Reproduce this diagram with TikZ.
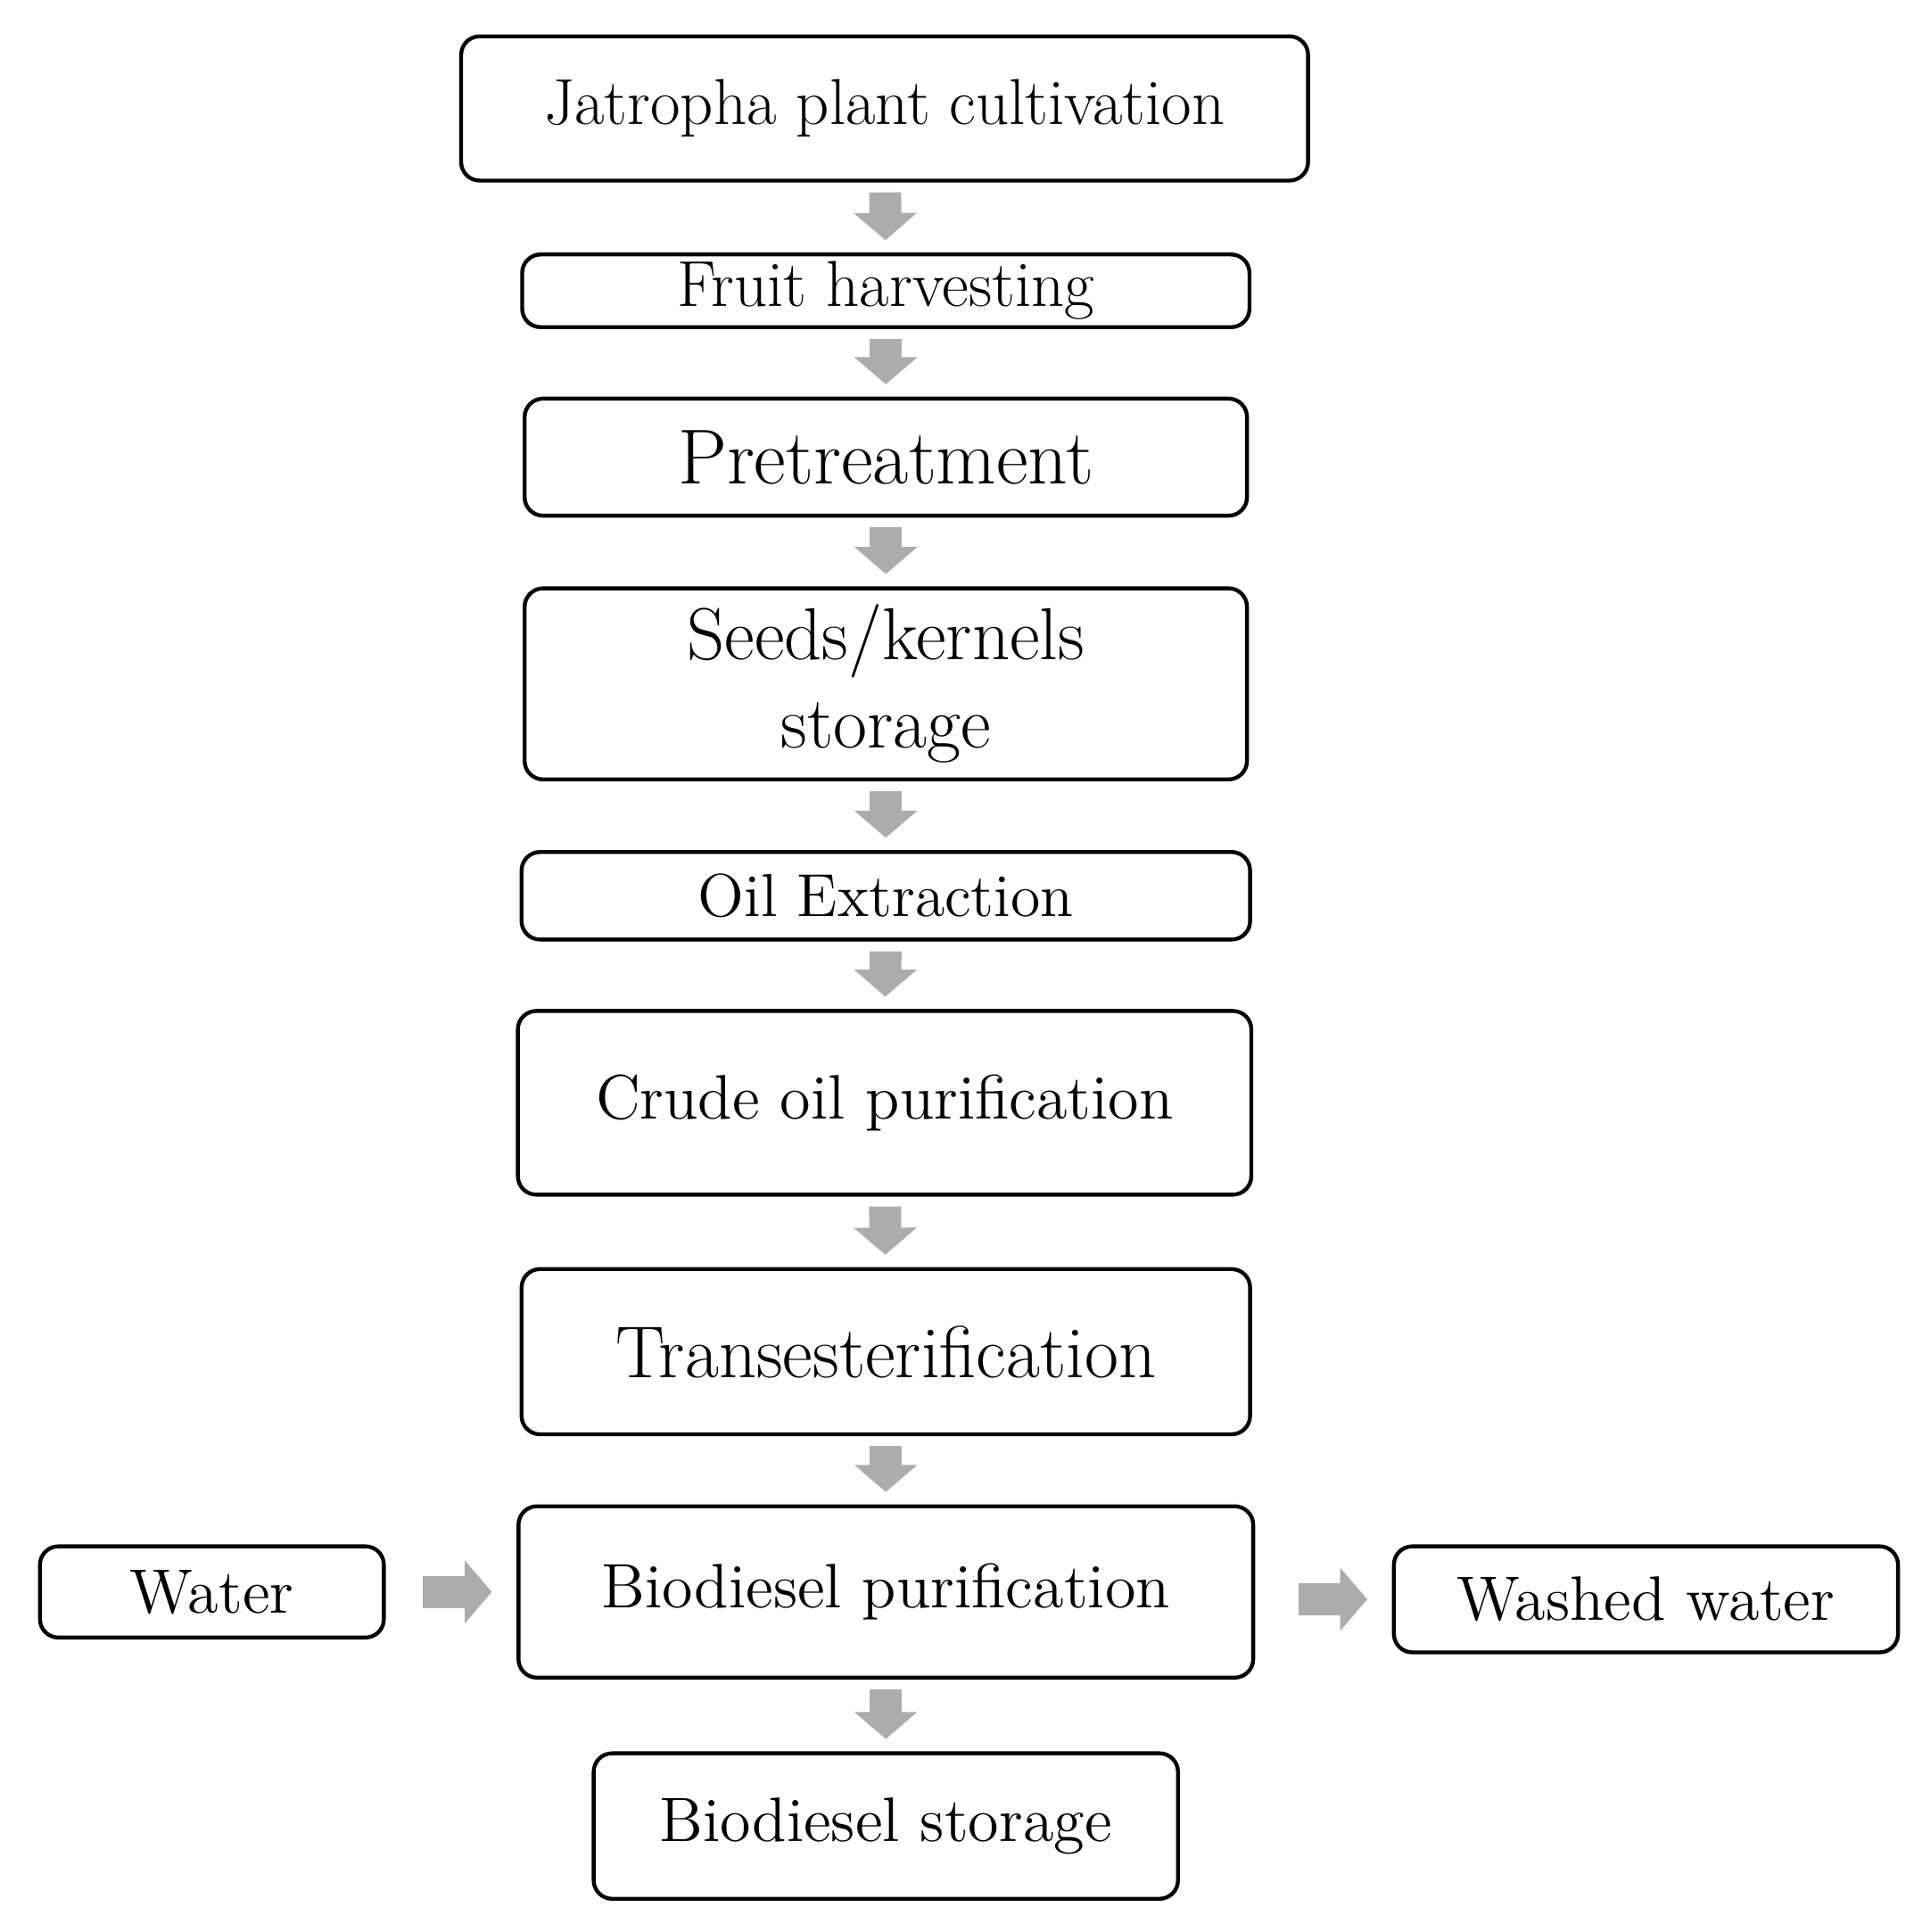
\documentclass[tikz,border=0pt]{standalone}
\usepackage{tikz}
\usetikzlibrary{arrows.meta}
\tikzset{
  stage/.style={draw, line width=0.9pt, rounded corners=0.15cm, align=center, inner sep=0pt},
  flow/.style={draw=gray!65, line width=0.26cm, -{Triangle[width=0.5cm,length=0.22cm]}, shorten <=0.08cm, shorten >=0.1cm},
}
\newcommand{\fs}[1]{\fontsize{#1}{#1}\selectfont\baselineskip=1.2\baselineskip}
\begin{document}
\begin{tikzpicture}[x=0.01cm,y=-0.01cm]
	\useasboundingbox (0,0) rectangle (1560,1568);
	\node[stage, minimum width=6.87cm, minimum height=1.17cm, font=\fs{15}] (cult) at (718,88) {Jatropha plant cultivation};
	\node[stage, minimum width=5.9cm, minimum height=0.59cm, font=\fs{15}] (harv) at (719,236) {Fruit harvesting};
	\node[stage, minimum width=5.86cm, minimum height=0.95cm, font=\fs{18}] (pre) at (719,371) {Pretreatment};
	\node[stage, minimum width=5.86cm, minimum height=1.55cm, font=\fs{17}] (seed) at (719,555) {Seeds/kernels\\storage};
	\node[stage, minimum width=5.91cm, minimum height=0.71cm, font=\fs{14}] (oil) at (719,727) {Oil Extraction};
	\node[stage, minimum width=5.95cm, minimum height=1.49cm, font=\fs{14.5}] (crude) at (718,895) {Crude oil purification};
	\node[stage, minimum width=5.91cm, minimum height=1.34cm, font=\fs{17}] (trans) at (719,1097) {Transesterification};
	\node[stage, minimum width=5.96cm, minimum height=1.39cm, font=\fs{14.5}] (bio) at (719,1292) {Biodiesel purification};
	\node[stage, minimum width=4.74cm, minimum height=1.18cm, font=\fs{14.5}] (store) at (719,1482) {Biodiesel storage};
	\node[stage, minimum width=2.79cm, minimum height=0.74cm, font=\fs{14.5}] (water) at (172,1292) {Water};
	\node[stage, minimum width=4.09cm, minimum height=0.86cm, font=\fs{14.5}] (wash) at (1336,1298) {Washed water};

	\draw[flow] (cult) -- (harv);
	\draw[flow] (harv) -- (pre);
	\draw[flow] (pre) -- (seed);
	\draw[flow] (seed) -- (oil);
	\draw[flow] (oil) -- (crude);
	\draw[flow] (crude) -- (trans);
	\draw[flow] (trans) -- (bio);
	\draw[flow] (bio) -- (store);
	\draw[flow, shorten <=0.3cm, shorten >=0.2cm] (water) -- (bio.west |- water);
	\draw[flow, shorten <=0.35cm, shorten >=0.2cm] (bio.east |- wash) -- (wash);
\end{tikzpicture}
\end{document}
